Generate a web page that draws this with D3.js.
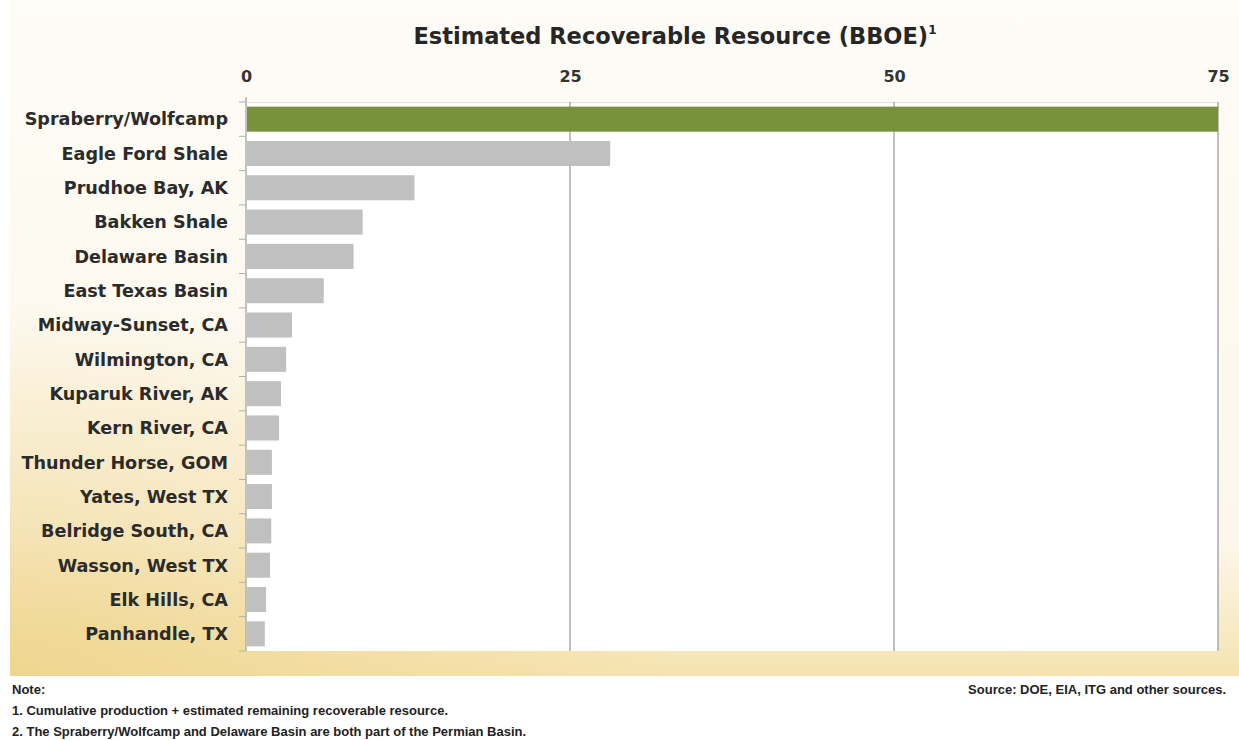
<!DOCTYPE html>
<html>
<head>
<meta charset="utf-8">
<script src="https://cdn.jsdelivr.net/npm/d3@7"></script>
<style>
  body { margin: 0; background: #fff; }
  svg { display: block; }
</style>
</head>
<body>
<div id="chart"></div>
<script>
var fields = ['Spraberry/Wolfcamp', 'Eagle Ford Shale', 'Prudhoe Bay, AK', 'Bakken Shale',
  'Delaware Basin', 'East Texas Basin', 'Midway-Sunset, CA', 'Wilmington, CA',
  'Kuparuk River, AK', 'Kern River, CA', 'Thunder Horse, GOM', 'Yates, West TX',
  'Belridge South, CA', 'Wasson, West TX', 'Elk Hills, CA', 'Panhandle, TX']
var bboe = [75, 28.1, 13.0, 9.0, 8.3, 6.0, 3.55, 3.1, 2.7, 2.55, 2.0, 2.0, 1.95, 1.85, 1.55, 1.45]
var xTicks = [0, 25, 50, 75]

var title = 'Estimated Recoverable Resource (BBOE)'
var notes = ['Note:',
  '1. Cumulative production + estimated remaining recoverable resource.',
  '2. The Spraberry/Wolfcamp and Delaware Basin are both part of the Permian Basin.']
var source = 'Source: DOE, EIA, ITG and other sources.'

var data = fields.map(function(d, i){ return {name: d, value: bboe[i]} })

var W = 1239, H = 740
var svg = d3.select('#chart').append('svg').attr('width', W).attr('height', H)

// backdrop panel
var defs = svg.append('defs')
var lin = defs.append('linearGradient').attr('id', 'bgLin')
  .attr('x1', 0).attr('y1', 0).attr('x2', 0).attr('y2', 1)
lin.append('stop').attr('offset', '0%').attr('stop-color', '#fefcf7')
lin.append('stop').attr('offset', '80%').attr('stop-color', '#fcf7ea')
lin.append('stop').attr('offset', '100%').attr('stop-color', '#f5e3b0')

var rad = defs.append('radialGradient').attr('id', 'bgRad')
  .attr('cx', 0).attr('cy', 1).attr('r', 0.55)
rad.append('stop').attr('offset', '0%').attr('stop-color', '#efd48c').attr('stop-opacity', 0.9)
rad.append('stop').attr('offset', '100%').attr('stop-color', '#efd48c').attr('stop-opacity', 0)

svg.append('rect').attr('x', 10).attr('y', 0).attr('width', W - 10).attr('height', 676)
  .attr('fill', 'url(#bgLin)')
svg.append('rect').attr('x', 10).attr('y', 0).attr('width', W - 10).attr('height', 676)
  .attr('fill', 'url(#bgRad)')

var margin = {left: 246, top: 102}
var pw = 972, ph = 549

var g = svg.append('g').attr('transform', 'translate(' + margin.left + ',' + margin.top + ')')

var x = d3.scaleLinear().domain([0, 75]).range([0, pw])
var y = d3.scaleBand().domain(fields).range([0, ph]).paddingInner(0.27).paddingOuter(0.135)

g.append('rect').attr('width', pw).attr('height', ph).attr('fill', '#fff')
g.append('line').attr('x1', 0).attr('x2', pw).attr('y1', 0.5).attr('y2', 0.5)
  .attr('stroke', '#e2e2e2')

// gridlines
g.selectAll('line.grid').data(xTicks.slice(1)).join('line')
  .attr('class', 'grid')
  .attr('x1', x).attr('x2', x).attr('y1', 0).attr('y2', ph)
  .attr('stroke', '#a8a8a8').attr('stroke-width', 1.5)

g.selectAll('rect.bar').data(data).join('rect')
  .attr('class', 'bar')
  .attr('x', 1)
  .attr('y', function(d){ return y(d.name) })
  .attr('height', y.bandwidth())
  .attr('width', function(d){ return x(d.value) - 1 })
  .attr('fill', function(d, i){ return i == 0 ? '#77923b' : '#c0c0c0' })

// top axis labels
var xAxis = d3.axisTop(x).tickValues(xTicks).tickSize(0).tickPadding(0)
var xa = g.append('g').attr('transform', 'translate(0,-20)').call(xAxis)
xa.select('.domain').remove()
xa.selectAll('text')
  .attr('font-family', 'DejaVu Sans, sans-serif').attr('font-weight', 'bold')
  .attr('font-size', 16).attr('fill', '#333')

// left axis with ticks at band boundaries
g.append('line').attr('x1', 0).attr('x2', 0).attr('y1', -5).attr('y2', ph)
  .attr('stroke', '#b0b0b0').attr('stroke-width', 1.5)
var bounds = d3.range(fields.length + 1).map(function(i){ return i * y.step() })
g.selectAll('line.tk').data(bounds).join('line')
  .attr('class', 'tk')
  .attr('x1', -7).attr('x2', 0).attr('y1', function(d){ return d }).attr('y2', function(d){ return d })
  .attr('stroke', '#b0b0b0')

g.selectAll('text.lab').data(data).join('text')
  .attr('class', 'lab')
  .attr('x', -18)
  .attr('y', function(d){ return y(d.name) + y.bandwidth() / 2 })
  .attr('dy', '0.36em')
  .attr('text-anchor', 'end')
  .attr('font-family', 'DejaVu Sans, sans-serif').attr('font-weight', 'bold')
  .attr('font-size', 17.6).attr('fill', '#2b2b2b')
  .text(function(d){ return d.name })

// title
var t = svg.append('text').attr('x', 675).attr('y', 44).attr('text-anchor', 'middle')
  .attr('font-family', 'DejaVu Sans, sans-serif').attr('font-size', 22.5).attr('fill', '#262626')
  .attr('font-weight', 'bold')
t.append('tspan').text(title)
t.append('tspan').attr('font-size', 12).attr('dy', -10).text('1')

// footer
svg.selectAll('text.note').data(notes).join('text')
  .attr('class', 'note')
  .attr('x', 12)
  .attr('y', function(d, i){ return 694 + i * 21 })
  .attr('font-family', 'Liberation Sans Narrow, Liberation Sans, sans-serif')
  .attr('font-weight', 'bold').attr('font-size', 13).attr('fill', '#222')
  .text(function(d){ return d })

svg.append('text').attr('x', 1226).attr('y', 694).attr('text-anchor', 'end')
  .attr('font-family', 'Liberation Sans Narrow, Liberation Sans, sans-serif')
  .attr('font-weight', 'bold').attr('font-size', 13).attr('fill', '#222')
  .text(source)
</script>
</body>
</html>
